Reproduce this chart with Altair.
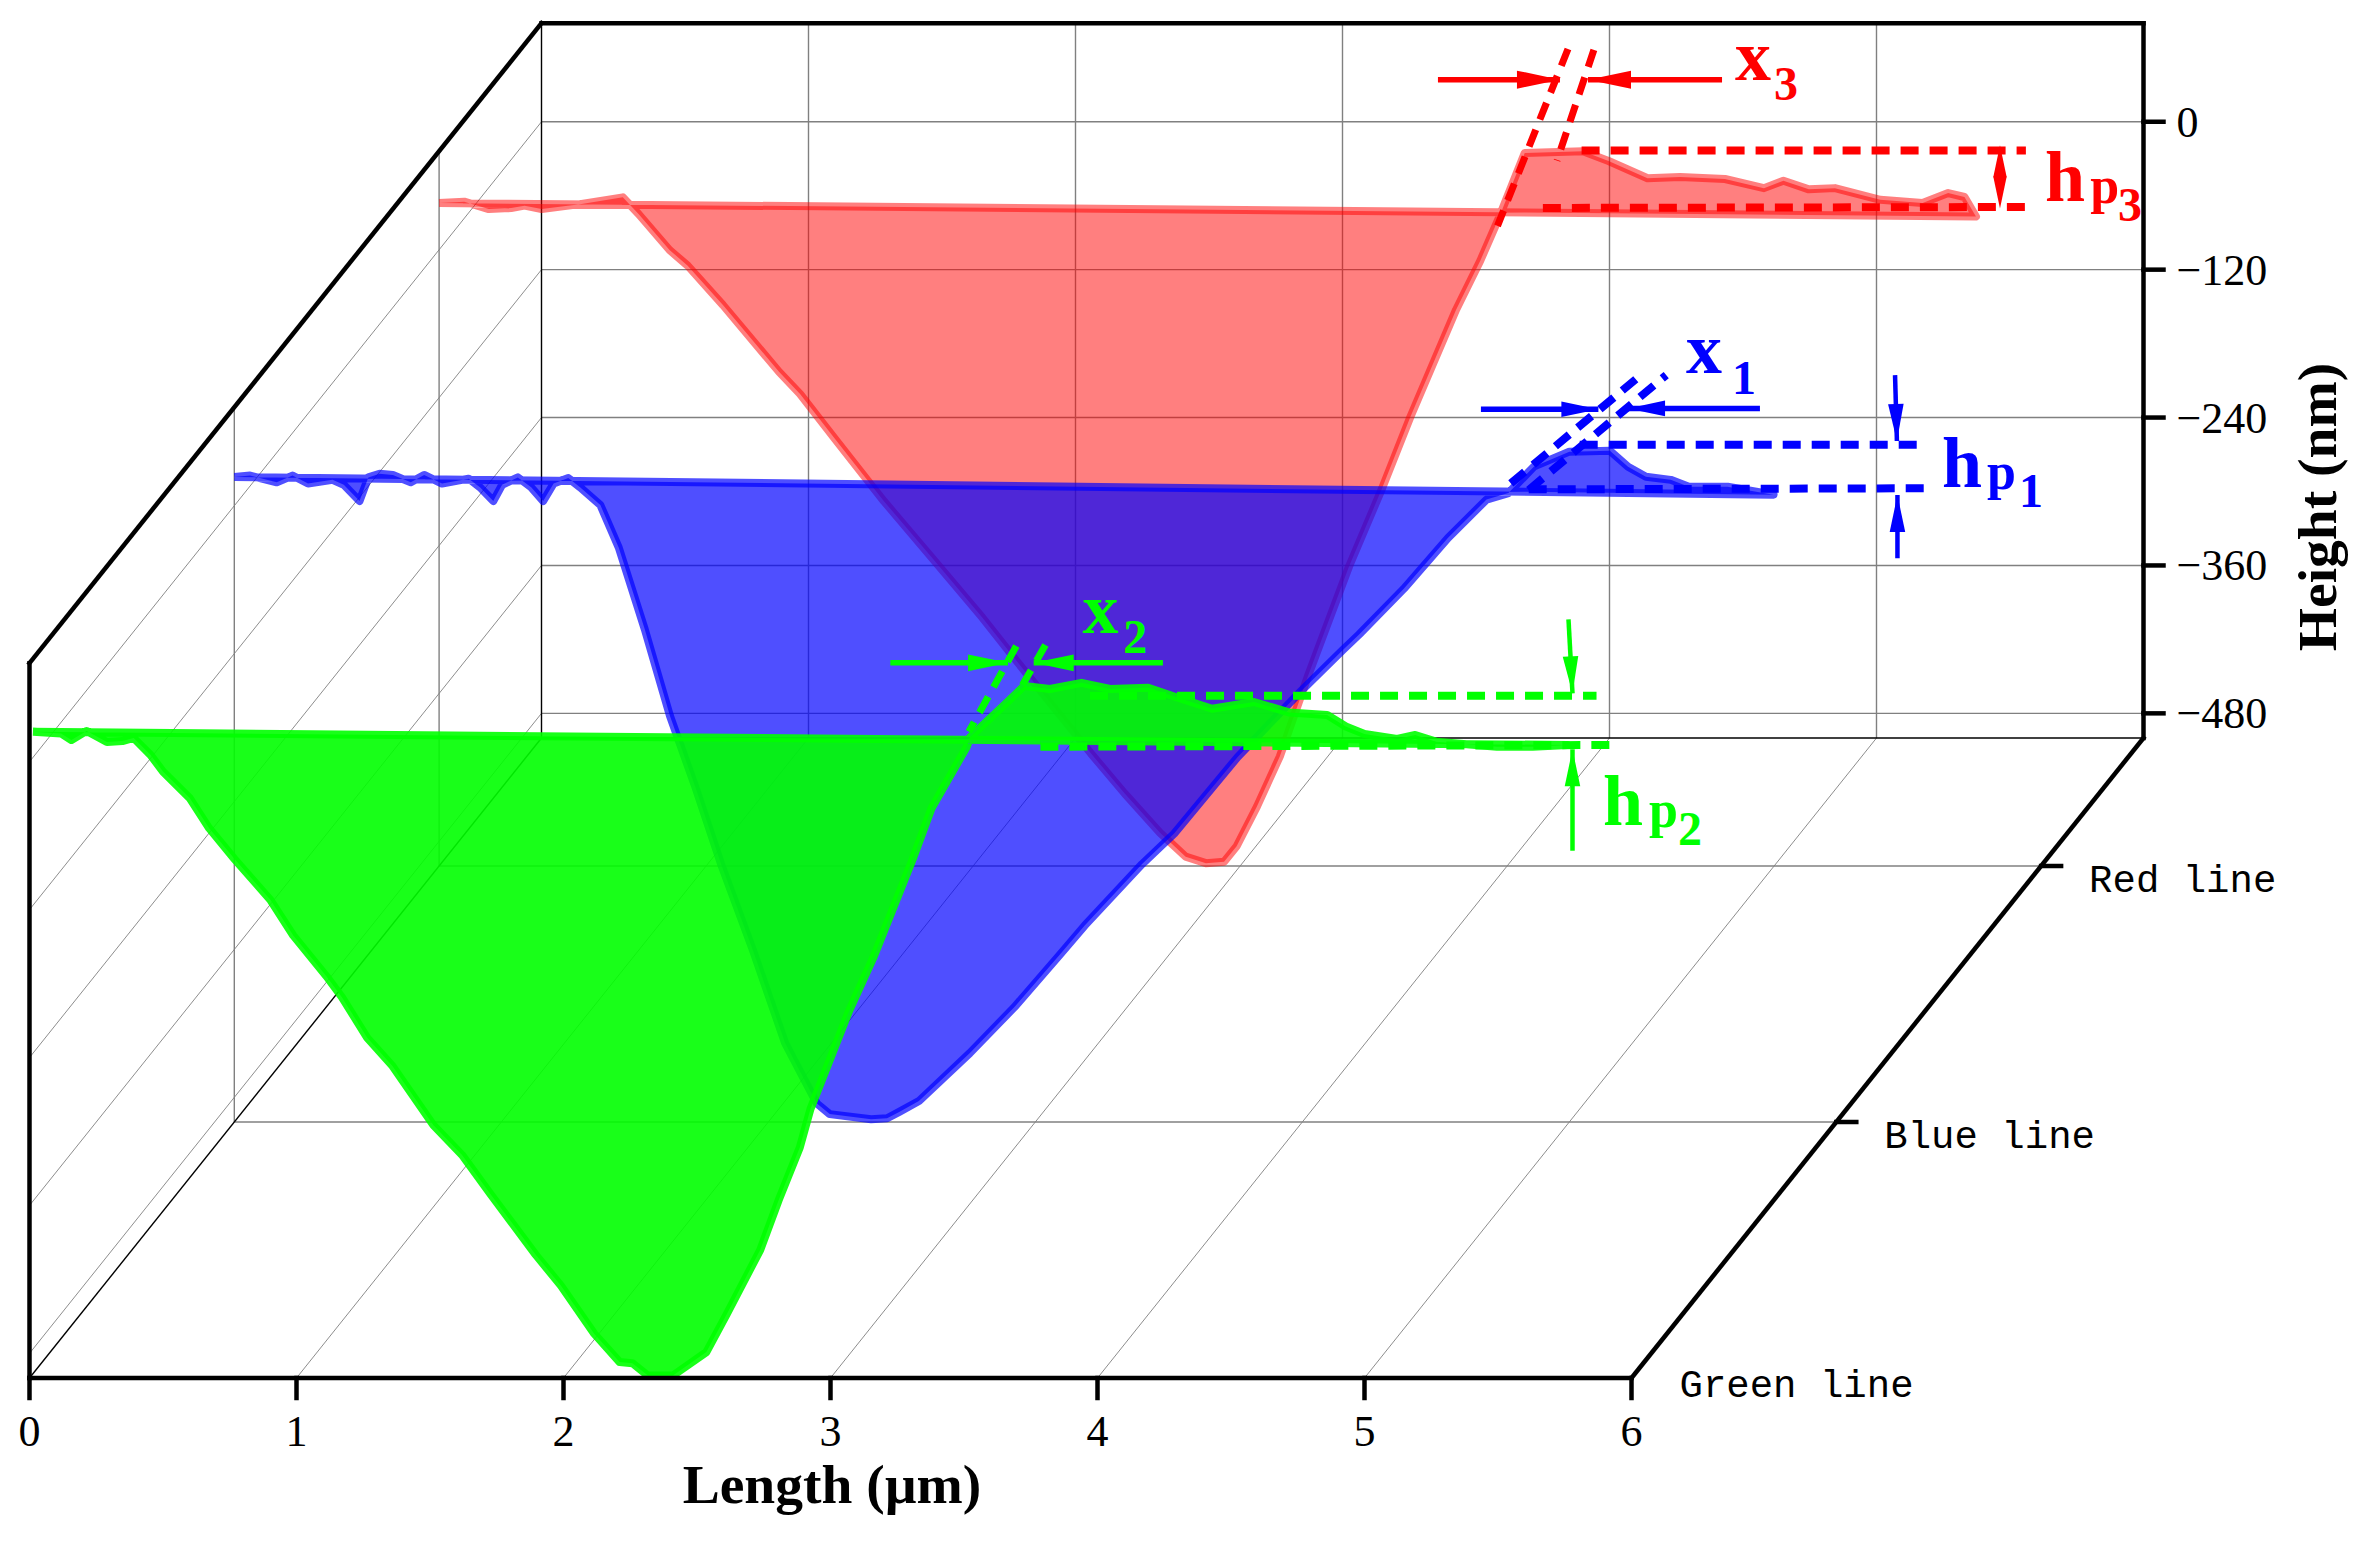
import math
import altair as alt
import pandas as pd

# ---- measured profiles (length in um, height in nm) ----
green_len = [0.013,0.118,0.157,0.214,0.29,0.348,0.39,0.453,0.5,0.6,0.673,0.768,0.902,0.988,1.112,1.17,1.265,1.36,1.513,1.62,1.724,1.896,1.99,2.115,2.21,2.258,2.316,2.41,2.535,2.612,2.737,2.806,2.885,2.925,3.068,3.163,3.308,3.379,3.51,3.523,3.665,3.725,3.822,3.94,4.047,4.19,4.287,4.429,4.586,4.717,4.86,4.93,5.0,5.122,5.19,5.268,5.496,5.63,5.76]
green_h = [24.3,23,17.6,25,16,16.8,19.3,5.6,-8,-29.5,-54,-79,-112,-141,-174,-191,-224,-247,-295,-319,-350,-400,-425,-464,-487,-488,-498,-498,-479,-448,-396,-355.6,-313,-281.7,-203,-157.6,-79,-37.5,12,20,49,61.5,59,64,59,60,53,43,48.5,40,38,28.6,22.5,18.5,21.7,16.3,12.2,12.2,13.6]

blue_len = [0,0.059,0.159,0.218,0.276,0.368,0.41,0.469,0.502,0.544,0.594,0.661,0.711,0.778,0.878,0.92,0.97,1.003,1.062,1.112,1.157,1.196,1.251,1.295,1.371,1.44,1.537,1.632,1.728,1.823,1.943,2.063,2.182,2.23,2.385,2.445,2.492,2.564,2.755,2.922,3.089,3.185,3.4,3.52,3.758,3.997,4.152,4.212,4.38,4.546,4.69,4.772,4.867,5.0,5.152,5.22,5.287,5.38,5.448,5.593,5.765]
blue_h = [23.3,24.5,19,24.5,18,21,17,3.8,23,26,25,19,25,18,22,15,3.8,17,23,15,3.8,18,22.5,15,0.6,-34,-100,-170.7,-229,-290.7,-361,-436,-485,-493.6,-497.8,-497,-491.6,-483,-444,-406.7,-365,-340.6,-290.7,-266,-203.8,-150,-117,-104.6,-67.4,-26,5,10.3,31.7,43.9,44.7,31.7,23.6,21,15.5,15.5,9]

red_len = [0,0.094,0.186,0.27,0.32,0.384,0.528,0.688,0.747,0.863,0.931,1.063,1.273,1.352,1.483,1.666,1.85,2.035,2.166,2.441,2.567,2.7,2.796,2.872,2.94,2.987,3.063,3.149,3.254,3.408,3.533,3.638,3.809,3.9,3.969,4.066,4.284,4.38,4.526,4.648,4.816,4.962,5.035,5.13,5.228,5.398,5.556,5.652,5.713,5.756]
red_h = [37.9,39,33,33.9,35.8,33,37,42.5,29,-0.2,-12.9,-44.8,-99,-117,-153.6,-204,-251,-298.5,-334.5,-408.6,-441,-473,-492.4,-497.7,-496.5,-484,-451.8,-411,-346,-257,-193,-135.5,-48.6,-8.7,25.7,78.5,80,72,58,59,57.4,50,56,49,50,40.5,38,46,42.8,27]

length_ticks = [0,1,2,3,4,5,6]
height_ticks = [0,-120,-240,-360,-480]
depths = {"Green line":0.0,"Blue line":0.4,"Red line":0.8}
H_MIN, H_MAX = -500, 80

# oblique projection of the box
X0, PX_L, PX_DX, PX_DY, Y0, PX_H = 29.5, 267.0, 512.0, 640.0, 1378.0, 1.2325
def px(L, h, d):
    return X0 + PX_L*L + PX_DX*d, Y0 - (h-H_MIN)*PX_H - PX_DY*d

# ---- annotation values: (length, height) at each line's depth ----
D_R, D_B, D_G = 0.8, 0.4, 0.0
dash_segments = [
 ("#ff0000",D_R,7,(4.228,162.9),(3.964,19.4)),
 ("#ff0000",D_R,7,(4.325,162.2),(4.187,72.3)),
 ("#ff0000",D_R,8,(4.279,80.6),(5.943,80.6)),
 ("#ff0000",D_R,8,(4.134,33.9),(5.943,34.7)),
 ("#0000ff",D_B,8,(4.781,18.2),(5.249,102.6)),
 ("#0000ff",D_B,8,(4.848,12.8),(5.363,106.0)),
 ("#0000ff",D_B,8,(5.039,49.5),(6.334,49.5)),
 ("#0000ff",D_B,8,(4.848,13.3),(6.344,14.2)),
 ("#00ff00",D_G,7,(3.696,93.9),(3.518,24.4)),
 ("#00ff00",D_G,7,(3.805,94.7),(3.719,62.3)),
 ("#00ff00",D_G,8,(3.972,53.6),(5.869,53.6)),
 ("#00ff00",D_G,8,(3.786,12.2),(5.922,13.6)),
]
arrows = [  # colour, depth, line width, head length, tail, tip
 ("#ff0000",D_R,5.5,43,(3.741,138),(4.198,138)),
 ("#ff0000",D_R,5.5,43,(4.805,138),(4.303,138)),
 ("#ff0000",D_R,0,32,(5.846,59),(5.846,84.7)),
 ("#ff0000",D_R,0,32,(5.846,59),(5.846,33.4)),
 ("#0000ff",D_B,5.5,37,(4.669,78.3),(5.109,78.3)),
 ("#0000ff",D_B,5.5,37,(5.714,79),(5.22,79)),
 ("#0000ff",D_B,4.5,37,(6.22,106),(6.227,52.5)),
 ("#0000ff",D_B,4.5,37,(6.229,-42.6),(6.229,8.7)),
 ("#00ff00",D_G,5.5,40,(3.224,80.3),(3.665,80.3)),
 ("#00ff00",D_G,5.5,40,(4.245,80.3),(3.761,80.3)),
 ("#00ff00",D_G,4.5,37,(5.764,115.6),(5.779,55.5)),
 ("#00ff00",D_G,4.5,37,(5.779,-72.2),(5.779,10.1)),
]
symbols = [  # text, colour, depth, size, length, height
 ("x","#ff0000",D_R,72,4.854,137.7),("3","#ff0000",D_R,48,5.0,121.5),
 ("h","#ff0000",D_R,72,6.015,39.6),("p","#ff0000",D_R,52,6.184,37.9),("3","#ff0000",D_R,48,6.288,23.3),
 ("x","#0000ff",D_B,72,5.437,107.7),("1","#0000ff",D_B,48,5.609,90.7),
 ("h","#0000ff",D_B,72,6.396,15.2),("p","#0000ff",D_B,52,6.564,13.6),("1","#0000ff",D_B,48,6.684,-1),
 ("x","#00ff00",D_G,72,3.944,104.7),("2","#00ff00",D_G,48,4.096,88.5),
 ("h","#00ff00",D_G,72,5.893,-51.3),("p","#00ff00",D_G,52,6.066,-53),("2","#00ff00",D_G,48,6.174,-67.6),
]

# ---- tables ----
def seg_rows(rows, idx, a, b, color, w):
    for o, p in enumerate((a, b)):
        rows.append(dict(id=idx, o=o, sx=p[0], sy=p[1], c=color, w=w))

GRAY, BLACK = "#808080", "#000000"
thin, frame = [], []
n = 0
def add(rows, a, b, c, w):
    global n
    seg_rows(rows, n, a, b, c, w); n += 1

for L in length_ticks[1:-1]:
    add(thin, px(L,H_MIN,1), px(L,H_MAX,1), GRAY, 1.4)
    add(thin, px(L,H_MIN,0), px(L,H_MIN,1), GRAY, 0.9)
for h in height_ticks:
    add(thin, px(0,h,1), px(6,h,1), GRAY, 1.4)
    add(thin, px(0,h,0), px(0,h,1), GRAY, 0.9)
for name, d in depths.items():
    if d > 0:
        add(thin, px(0,H_MIN,d), px(6,H_MIN,d), GRAY, 1.4)
        add(thin, px(0,H_MIN,d), px(0,H_MAX,d), GRAY, 1.4)
add(thin, px(0,H_MIN,0), px(0,H_MIN,1), BLACK, 1.4)
add(thin, px(0,H_MIN,1), px(0,H_MAX,1), BLACK, 1.4)
add(thin, px(0,H_MIN,1), px(6,H_MIN,1), BLACK, 1.4)

add(frame, px(0,H_MIN,0), px(0,H_MAX,0), BLACK, 4.5)
add(frame, px(0,H_MAX,0), px(0,H_MAX,1), BLACK, 4.5)
add(frame, px(0,H_MAX,1), px(6,H_MAX,1), BLACK, 4.5)
add(frame, px(6,H_MAX,1), px(6,H_MIN,1), BLACK, 4.5)
add(frame, px(6,H_MIN,1), px(6,H_MIN,0), BLACK, 4.5)
add(frame, px(6,H_MIN,0), px(0,H_MIN,0), BLACK, 4.5)
TICK = 20
for L in length_ticks:
    a = px(L,H_MIN,0); add(frame, a, (a[0], a[1]+TICK), BLACK, 4.5)
for h in height_ticks:
    a = px(6,h,1); add(frame, a, (a[0]+TICK, a[1]), BLACK, 4.5)
for name, d in depths.items():
    if d > 0:
        a = px(6,H_MIN,d); add(frame, a, (a[0]+TICK, a[1]), BLACK, 4.5)

dash_rows = []
for c, d, w, a, b in dash_segments:
    add(dash_rows, px(a[0],a[1],d), px(b[0],b[1],d), c, w)

shaft_rows, head_rows = [], []
for c, d, w, hl, tail, tip in arrows:
    t0, t1 = px(tail[0],tail[1],d), px(tip[0],tip[1],d)
    if w > 0:
        add(shaft_rows, t0, t1, c, w)
    ang = math.atan2(t1[1]-t0[1], t1[0]-t0[0])
    head_rows.append(dict(sx=t1[0]-math.cos(ang)*hl/2, sy=t1[1]-math.sin(ang)*hl/2,
                          a=math.degrees(ang) % 360, s=hl*hl, c=c))

def profile(lens, hs, d):
    rows = [dict(i=i, sx=px(L,h,d)[0], sy=px(L,h,d)[1]) for i,(L,h) in enumerate(zip(lens,hs))]
    rows.append(dict(rows[0], i=len(rows)))   # the outline closes along the top chord
    return pd.DataFrame(rows)

sym_rows = [dict(t=t, c=c, size=s, sx=px(L,h,d)[0], sy=px(L,h,d)[1]) for t,c,d,s,L,h in symbols]

x_num = [dict(t=str(L), sx=px(L,H_MIN,0)[0], sy=px(L,H_MIN,0)[1]+68) for L in length_ticks]
y_num = [dict(t=("\u2212"+str(-h) if h<0 else str(h)), sx=px(6,h,1)[0]+33, sy=px(6,h,1)[1]+15) for h in height_ticks]
depth_lab = [dict(t=name, sx=px(6,H_MIN,d)[0]+48, sy=px(6,H_MIN,d)[1]+(19 if d==0 else 26)) for name,d in depths.items()]
titles = [dict(t="Length (\u00b5m)", sx=832, sy=1503, a=0), dict(t="Height (nm)", sx=2336, sy=507, a=270)]

# ---- scales: chart units equal page pixels ----
W, H = 2348, 1526
xs = alt.X("sx:Q", scale=alt.Scale(domain=[8,8+W], nice=False, zero=False), axis=None)
ys = alt.Y("sy:Q", scale=alt.Scale(domain=[8+H,8], nice=False, zero=False), axis=None)

def lines(rows, **mk):
    return alt.Chart(pd.DataFrame(rows)).mark_line(strokeCap=mk.pop("cap","butt"), **mk).encode(
        x=xs, y=ys, detail="id:N", order="o:Q",
        color=alt.Color("c:N", scale=None), strokeWidth=alt.StrokeWidth("w:Q", scale=None))

def prof(df, col, op):
    return alt.Chart(df).mark_line(fill=col, fillOpacity=op, stroke=col, strokeOpacity=op,
                                   strokeWidth=8, strokeJoin="round").encode(x=xs, y=ys, order="i:Q")

def text_layer(rows, font, size, **mk):
    return alt.Chart(pd.DataFrame(rows)).mark_text(font=font, fontSize=size, color="black", **mk).encode(
        x=xs, y=ys, text="t:N")

layers = [
    lines(thin),
    prof(profile(red_len, red_h, D_R), "#ff0000", 0.5),
    prof(profile(blue_len, blue_h, D_B), "#0000ff", 0.69),
    prof(profile(green_len, green_h, D_G), "#00ff00", 0.9),
    lines(frame, cap="square"),
    lines(dash_rows, strokeDash=[18,11]),
    lines(shaft_rows),
    alt.Chart(pd.DataFrame(head_rows)).mark_point(
        shape="M-1,-0.42L1,0L-1,0.42Z", filled=True, opacity=1).encode(
        x=xs, y=ys, size=alt.Size("s:Q", scale=None), angle=alt.Angle("a:Q", scale=None),
        color=alt.Color("c:N", scale=None)),
    alt.Chart(pd.DataFrame(sym_rows)).mark_text(font="Liberation Serif", fontWeight="bold", align="left", baseline="alphabetic").encode(
        x=xs, y=ys, text="t:N", size=alt.Size("size:Q", scale=None), color=alt.Color("c:N", scale=None)),
    text_layer(x_num, "Liberation Serif", 44, align="center", baseline="alphabetic"),
    text_layer(y_num, "Liberation Serif", 44, align="left", baseline="alphabetic"),
    text_layer(depth_lab, "Liberation Mono", 39, align="left", baseline="alphabetic"),
    alt.Chart(pd.DataFrame(titles)).mark_text(font="Liberation Serif", fontWeight="bold", fontSize=55.5, color="black",
        align="center", baseline="alphabetic").encode(x=xs, y=ys, text="t:N", angle=alt.Angle("a:Q", scale=None)),
]

chart = alt.layer(*layers).properties(width=W, height=H, padding=0,
        autosize=alt.AutoSizeParams(type="none")).configure_view(stroke=None)
chart.save("out.html", embed_options={"renderer":"svg","actions":False})
